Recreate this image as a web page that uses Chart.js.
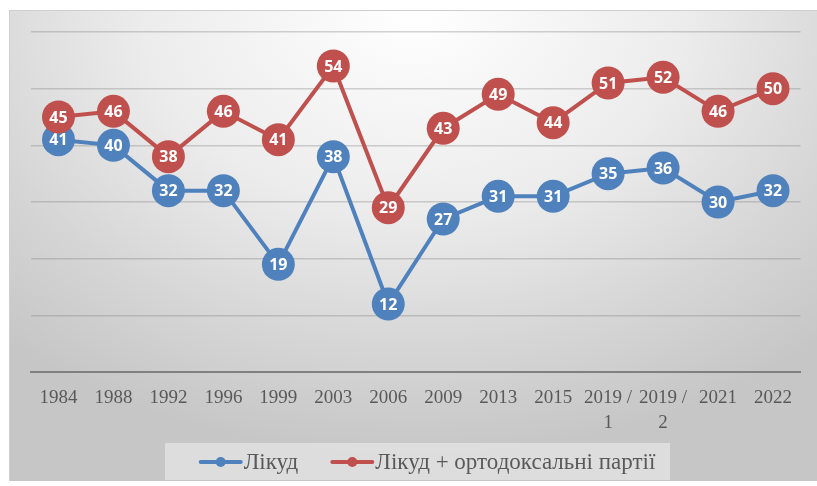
<!DOCTYPE html>
<html>
<head>
<meta charset="utf-8">
<script src="https://cdn.jsdelivr.net/npm/chart.js@4.4.1/dist/chart.umd.min.js"></script>
<style>
  html, body { margin: 0; padding: 0; background: #fff; }
  #wrap {
    position: absolute; left: 9px; top: 10px; width: 808px; height: 471px;
    border-top: 1px solid #cfcfcf; border-left: 1px solid #cfcfcf;
    box-sizing: border-box;
    background: radial-gradient(ellipse 75% 95% at 50% 0%, #ffffff 0%, #ececec 45%, #d6d6d6 75%, #c6c6c6 100%);
  }
</style>
</head>
<body>
<div id="wrap"><canvas id="lineChart"></canvas></div>
<script>
const years = ['1984','1988','1992','1996','1999','2003','2006','2009','2013','2015',['2019 /','1'],['2019 /','2'],'2021','2022']
const likud = [41,40,32,32,19,38,12,27,31,31,35,36,30,32]
const likudOrth = [45,46,38,46,41,54,29,43,49,44,51,52,46,50]

const blue = '#4f81bd'
const red = '#c0504d'
const serif = '"Times New Roman", "Liberation Serif", "DejaVu Serif", serif'

// white numbers inside the points
const pointLabels = {
    id: 'pointLabels',
    afterDatasetDraw(chart, args){
        const ctx = chart.ctx
        const ds = chart.data.datasets[args.index]
        ctx.save()
        ctx.fillStyle = '#fff'
        ctx.font = 'bold 16px "Open Sans", sans-serif'
        ctx.textAlign = 'center'
        ctx.textBaseline = 'middle'
        args.meta.data.forEach((pt, i) => {
            ctx.fillText(String(ds.data[i]), pt.x, pt.y + 1)
        })
        ctx.restore()
    }
}

// excel-like legend: grey box, line + dot icons, serif text
const bottomLegend = {
    id: 'bottomLegend',
    afterDraw(chart){
        const ctx = chart.ctx
        const sets = chart.data.datasets
        ctx.save()
        ctx.fillStyle = 'rgba(240,240,240,0.55)'
        ctx.fillRect(155, 432, 505, 37)
        ctx.font = '23px ' + serif
        ctx.textBaseline = 'middle'
        const iconW = 44, gap = 1, between = 32
        let total = 0
        sets.forEach((d, i) => {
            total += iconW + gap + ctx.measureText(d.label).width
            if (i < sets.length - 1) total += between
        })
        let x = 417 - total / 2
        const y = 451
        sets.forEach(d => {
            ctx.strokeStyle = d.borderColor
            ctx.lineWidth = 4
            ctx.lineCap = 'round'
            ctx.beginPath(); ctx.moveTo(x + 2, y); ctx.lineTo(x + iconW - 2, y); ctx.stroke()
            ctx.fillStyle = d.borderColor
            ctx.beginPath(); ctx.arc(x + iconW / 2, y, 5, 0, Math.PI * 2); ctx.fill()
            x += iconW + gap
            ctx.fillStyle = '#595959'
            ctx.fillText(d.label, x, y + 1)
            x += ctx.measureText(d.label).width + between
        })
        ctx.restore()
    }
}

const config = {
    type: 'line',
    data: {
        labels: years,
        datasets: [{
            label: 'Лікуд',
            data: likud,
            borderColor: blue,
            backgroundColor: blue,
            borderWidth: 4,
            pointRadius: 16.5,
            pointHoverRadius: 16.5,
            pointBorderWidth: 0,
            order: 2
        },{
            label: 'Лікуд + ортодоксальні партії',
            data: likudOrth,
            borderColor: red,
            backgroundColor: red,
            borderWidth: 4,
            pointRadius: 16.5,
            pointHoverRadius: 16.5,
            pointBorderWidth: 0,
            order: 1
        }]
    },
    options: {
        responsive: true,
        maintainAspectRatio: false,
        animation: false,
        layout: { padding: { left: 21, right: 12, top: 21, bottom: 38 } },
        scales: {
            x: {
                offset: true,
                grid: { display: false },
                border: { color: '#808080', width: 2 },
                ticks: {
                    color: '#595959',
                    font: { family: serif, size: 19, lineHeight: 1.3 },
                    maxRotation: 0,
                    autoSkip: false,
                    padding: 6
                },
                afterFit(scale){ scale.height = 71 }
            },
            y: {
                min: 0,
                max: 60,
                ticks: { display: false, stepSize: 10 },
                border: { display: false },
                grid: { color: 'rgba(128,128,128,0.35)', lineWidth: 1.5, drawTicks: false }
            }
        },
        plugins: {
            legend: { display: false },
            tooltip: { enabled: false }
        }
    },
    plugins: [pointLabels, bottomLegend]
}

const chart = new Chart(document.getElementById('lineChart'), config)
</script>
</body>
</html>
